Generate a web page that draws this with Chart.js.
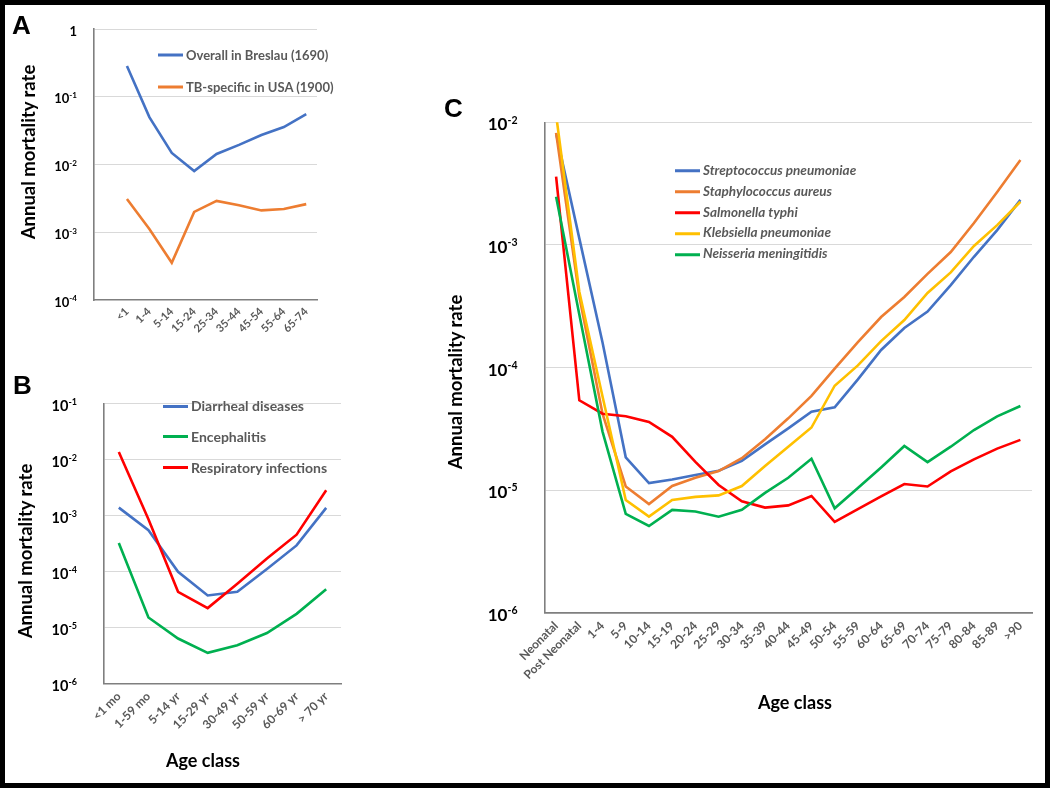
<!DOCTYPE html>
<html>
<head>
<meta charset="utf-8">
<title>Annual mortality rate by age class</title>
<script src="https://cdn.jsdelivr.net/npm/chart.js@4.4.0/dist/chart.umd.min.js"></script>
<style>
    html, body { margin: 0; padding: 0; background: #fff; }
    #page { position: relative; width: 1050px; height: 788px; overflow: hidden; font-family: Lato, "Open Sans", sans-serif; }
    #frame { position: absolute; left: 0; top: 0; width: 1050px; height: 788px; box-sizing: border-box; border: 5px solid #000; pointer-events: none; z-index: 5; }
    canvas { position: absolute; }
    .letter { position: absolute; font-family: "Liberation Sans", Arial, sans-serif; font-weight: bold; font-size: 26px; line-height: 1; }
    .ytitle { position: absolute; font-weight: bold; font-size: 18.5px; line-height: 1; white-space: nowrap; transform: translate(-50%, -50%) rotate(-90deg); }
    .xtitle { position: absolute; font-weight: bold; font-size: 18px; line-height: 1; white-space: nowrap; transform: translate(-50%, -50%); }
    .lrow { position: absolute; display: flex; align-items: center; white-space: nowrap; font-weight: bold; color: #595959; line-height: 1; transform: translateY(-50%); }
    .lrow .sw { width: 25px; height: 3px; margin-right: 3px; }
</style>
</head>
<body>
<div id="page">
    <canvas id="chartA" width="360" height="370" style="left:0;top:0"></canvas>
    <canvas id="chartB" width="360" height="418" style="left:0;top:370px"></canvas>
    <canvas id="chartC" width="615" height="708" style="left:430px;top:80px"></canvas>

    <div class="letter" style="left:12px;top:11.6px">A</div>
    <div class="letter" style="left:13px;top:371.6px">B</div>
    <div class="letter" style="left:444px;top:94.6px">C</div>

    <div class="ytitle" style="left:27.5px;top:152px">Annual mortality rate</div>
    <div class="ytitle" style="left:25px;top:551px">Annual mortality rate</div>
    <div class="ytitle" style="left:455px;top:382px">Annual mortality rate</div>

    <div class="xtitle" style="left:203px;top:760px">Age class</div>
    <div class="xtitle" style="left:795px;top:702px">Age class</div>

    <div id="frame"></div>
</div>
<script>
// ---- Panel A: historical mortality
const agesA = ['<1', '1-4', '5-14', '15-24', '25-34', '35-44', '45-54', '55-64', '65-74'];
const breslau1690 = [0.284, 0.050, 0.0148, 0.0080, 0.0143, 0.0195, 0.0272, 0.0357, 0.0556];
const tbUsa1900 = [0.0031, 0.00112, 0.000355, 0.0020, 0.0029, 0.0025, 0.0021, 0.0022, 0.0026];
const namesA = ['Overall in Breslau (1690)', 'TB-specific in USA (1900)'];
const yTicksA = [1, 1e-1, 1e-2, 1e-3, 1e-4];

// ---- Panel B: causes of death
const agesB = ['<1 mo', '1-59 mo', '5-14 yr', '15-29 yr', '30-49 yr', '50-59 yr', '60-69 yr', '> 70 yr'];
const diarrheal = [1.37e-3, 5.4e-4, 9.8e-5, 3.7e-5, 4.3e-5, 1.1e-4, 2.9e-4, 1.36e-3];
const encephalitis = [3.2e-4, 1.5e-5, 6.3e-6, 3.5e-6, 4.8e-6, 7.9e-6, 1.74e-5, 4.8e-5];
const respiratory = [1.35e-2, 8.5e-4, 4.3e-5, 2.2e-5, 6.0e-5, 1.7e-4, 4.5e-4, 2.8e-3];
const namesB = ['Diarrheal diseases', 'Encephalitis', 'Respiratory infections'];
const yTicksB = [1e-1, 1e-2, 1e-3, 1e-4, 1e-5, 1e-6];

// ---- Panel C: pathogens
const agesC = ['Neonatal', 'Post Neonatal', '1-4', '5-9', '10-14', '15-19', '20-24', '25-29', '30-34', '35-39',
    '40-44', '45-49', '50-54', '55-59', '60-64', '65-69', '70-74', '75-79', '80-84', '85-89', '>90'];
const strepPneumo = [8.1e-3, 1.13e-3, 1.6e-4, 1.85e-5, 1.14e-5, 1.22e-5, 1.33e-5, 1.44e-5, 1.73e-5, 2.36e-5,
    3.19e-5, 4.36e-5, 4.73e-5, 8.0e-5, 1.39e-4, 2.1e-4, 2.86e-4, 4.7e-4, 8.0e-4, 1.32e-3, 2.33e-3];
const staphAureus = [8.2e-3, 3.8e-4, 4.2e-5, 1.07e-5, 7.7e-6, 1.08e-5, 1.26e-5, 1.43e-5, 1.82e-5, 2.6e-5,
    3.85e-5, 5.86e-5, 9.8e-5, 1.61e-4, 2.58e-4, 3.76e-4, 5.8e-4, 8.75e-4, 1.51e-3, 2.7e-3, 4.93e-3];
const salmTyphi = [3.6e-3, 5.4e-5, 4.2e-5, 4.0e-5, 3.6e-5, 2.72e-5, 1.7e-5, 1.1e-5, 8.1e-6, 7.2e-6,
    7.5e-6, 8.95e-6, 5.5e-6, 7.0e-6, 8.9e-6, 1.12e-5, 1.07e-5, 1.42e-5, 1.78e-5, 2.18e-5, 2.57e-5];
const klebPneumo = [1.15e-2, 4.15e-4, 5.8e-5, 8.3e-6, 6.07e-6, 8.3e-6, 8.8e-6, 9.06e-6, 1.08e-5, 1.57e-5,
    2.26e-5, 3.24e-5, 7.1e-5, 1.04e-4, 1.64e-4, 2.44e-4, 4.05e-4, 5.96e-4, 9.8e-4, 1.45e-3, 2.25e-3];
const neissMening = [2.47e-3, 2.7e-4, 3.0e-5, 6.4e-6, 5.1e-6, 6.9e-6, 6.7e-6, 6.07e-6, 6.9e-6, 9.5e-6,
    1.26e-5, 1.8e-5, 7.1e-6, 1.04e-5, 1.53e-5, 2.29e-5, 1.69e-5, 2.26e-5, 3.09e-5, 4.0e-5, 4.85e-5];
const namesC = ['Streptococcus pneumoniae', 'Staphylococcus aureus', 'Salmonella typhi', 'Klebsiella pneumoniae', 'Neisseria meningitidis'];
const yTicksC = [1e-2, 1e-3, 1e-4, 1e-5, 1e-6];

// office-like colours
const BLUE = '#4472C4', ORANGE = '#ED7D31', RED = '#FF0000', YELLOW = '#FFC000', GREEN = '#00B050';
const GRID = '#D9D9D9', AXIS = '#7F7F7F', LABEL = '#595959';

// draws "10" with a raised exponent next to each gridline
const powerLabels = {
    id: 'powerLabels',
    afterDraw(chart, args, opts) {
        const { ctx, chartArea, scales } = chart;
        ctx.save();
        ctx.fillStyle = '#000';
        ctx.textAlign = 'left';
        ctx.textBaseline = 'alphabetic';
        opts.ticks.forEach(v => {
            const exp = Math.round(Math.log10(v));
            const base = exp === 0 ? '1' : '10';
            const sup = exp === 0 ? '' : String(exp);
            const right = chartArea.left - opts.gap;
            const baseY = scales.y.getPixelForValue(v) + opts.shift + opts.size * 0.36;
            ctx.font = `bold ${opts.size * 0.62}px Lato`;
            const ws = ctx.measureText(sup).width;
            ctx.font = `bold ${opts.size}px Lato`;
            const wb = ctx.measureText(base).width;
            ctx.fillText(base, right - ws - wb, baseY);
            if (sup) {
                ctx.font = `bold ${opts.size * 0.62}px Lato`;
                ctx.fillText(sup, right - ws, baseY - opts.size * 0.4);
            }
        });
        ctx.restore();
    }
};

function series(label, data, color, idx, total) {
    return {
        label: label,
        data: data,
        borderColor: color,
        backgroundColor: color,
        borderWidth: 2.6,
        pointRadius: 0,
        tension: 0,
        fill: false,
        order: total - idx   // later series on top, like the original
    };
}

function yAxis(min, max, ticks, width) {
    return {
        type: 'logarithmic',
        min: min,
        max: max,
        afterBuildTicks: s => { s.ticks = ticks.map(v => ({ value: v, major: true })); },
        afterFit: s => { s.width = width; },
        ticks: { display: false },
        grid: {
            color: c => (c.tick && c.tick.value === min) ? 'rgba(0,0,0,0)' : GRID,
            lineWidth: 1,
            drawTicks: false
        },
        border: { display: true, color: AXIS, width: 1.6 }
    };
}

function xTicks(size, pad) {
    return {
        color: LABEL,
        font: { family: 'Lato', weight: 'bold', size: size },
        maxRotation: 45,
        minRotation: 45,
        autoSkip: false,
        padding: pad
    };
}

function baseOptions(pad, x, y, labelOpts) {
    return {
        responsive: false,
        animation: false,
        layout: { padding: pad },
        plugins: {
            legend: { display: false },
            tooltip: { enabled: false },
            powerLabels: labelOpts
        },
        scales: { x: x, y: y }
    };
}

function addLegend(left, top, gap, names, colors, size, italic) {
    const page = document.getElementById('page');
    names.forEach((name, i) => {
        const row = document.createElement('div');
        row.className = 'lrow';
        row.style.left = left + 'px';
        row.style.top = (top + i * gap) + 'px';
        row.style.fontSize = size + 'px';
        if (italic) row.style.fontStyle = 'italic';
        const sw = document.createElement('span');
        sw.className = 'sw';
        sw.style.background = colors[i];
        const txt = document.createElement('span');
        txt.textContent = name;
        row.appendChild(sw);
        row.appendChild(txt);
        page.appendChild(row);
    });
}

function showChartA() {
    const colors = [BLUE, ORANGE];
    const sets = [breslau1690, tbUsa1900].map((arr, i) =>
        series(namesA[i], arr.map((v, k) => ({ x: k, y: v })), colors[i], i, 2));
    const x = {
        type: 'linear',
        min: -1.47,
        max: 8.48,
        afterBuildTicks: s => { s.ticks = agesA.map((a, i) => ({ value: i })); },
        afterFit: s => { s.height = 70; },
        ticks: Object.assign(xTicks(11, 5), { callback: v => agesA[v] }),
        grid: { display: false, drawTicks: false },
        border: { display: true, color: AXIS, width: 1.6 }
    };
    new Chart(document.getElementById('chartA'), {
        type: 'line',
        data: { datasets: sets },
        options: baseOptions({ left: 0, top: 29, right: 43, bottom: 0 }, x,
            yAxis(1e-4, 1, yTicksA, 94), { ticks: yTicksA, gap: 17, size: 13, shift: 2 }),
        plugins: [powerLabels]
    });
    addLegend(158, 55, 32.3, namesA, colors, 13, false);
}

function showChartB() {
    const colors = [BLUE, GREEN, RED];
    const sets = [diarrheal, encephalitis, respiratory].map((arr, i) => series(namesB[i], arr, colors[i], i, 3));
    const x = {
        type: 'category',
        offset: true,
        afterFit: s => { s.height = 104.7; },
        ticks: xTicks(12, 6),
        grid: { display: false, drawTicks: false },
        border: { display: true, color: AXIS, width: 1.6 }
    };
    new Chart(document.getElementById('chartB'), {
        type: 'line',
        data: { labels: agesB, datasets: sets },
        options: baseOptions({ left: 0, top: 33.3, right: 19, bottom: 0 }, x,
            yAxis(1e-6, 1e-1, yTicksB, 104), { ticks: yTicksB, gap: 27, size: 14.5, shift: 2.5 }),
        plugins: [powerLabels]
    });
    addLegend(163, 406, 30.8, namesB, colors, 14, false);
}

function showChartC() {
    const colors = [BLUE, ORANGE, RED, YELLOW, GREEN];
    const sets = [strepPneumo, staphAureus, salmTyphi, klebPneumo, neissMening]
        .map((arr, i) => series(namesC[i], arr, colors[i], i, 5));
    const x = {
        type: 'category',
        offset: true,
        afterFit: s => { s.height = 175.3; },
        ticks: xTicks(12, 6),
        grid: { display: false, drawTicks: false },
        border: { display: true, color: AXIS, width: 1.8 }
    };
    new Chart(document.getElementById('chartC'), {
        type: 'line',
        data: { labels: agesC, datasets: sets },
        options: baseOptions({ left: 0, top: 42.3, right: 13, bottom: 0 }, x,
            yAxis(1e-6, 1e-2, yTicksC, 114.5), { ticks: yTicksC, gap: 27, size: 17, shift: 2 }),
        plugins: [powerLabels]
    });
    addLegend(675, 170.7, 20.9, namesC, colors, 13.5, true);
}

showChartA();
showChartB();
showChartC();
</script>
</body>
</html>
